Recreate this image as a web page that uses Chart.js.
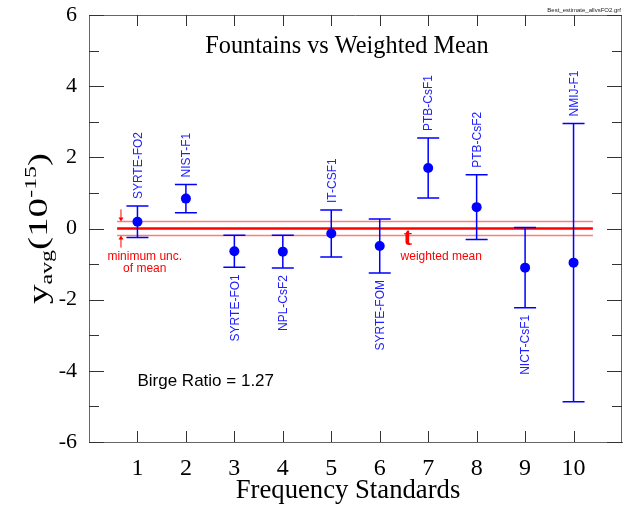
<!DOCTYPE html>
<html><head><meta charset="utf-8">
<script src="https://cdn.jsdelivr.net/npm/chart.js@4/dist/chart.umd.min.js"></script>
<style>html,body{margin:0;padding:0;background:#fff;}</style>
</head><body>
<canvas id="c" width="627" height="515" style="width:627px;height:515px;display:block"></canvas>
<script>
// ---- data ----
const standards = [1, 2, 3, 4, 5, 6, 7, 8, 9, 10];
const names = ['SYRTE-FO2', 'NIST-F1', 'SYRTE-FO1', 'NPL-CsF2', 'IT-CSF1', 'SYRTE-FOM', 'PTB-CsF1', 'PTB-CsF2', 'NICT-CsF1', 'NMIJ-F1'];
const values = [0.19, 0.84, -0.64, -0.65, -0.14, -0.49, 1.70, 0.60, -1.10, -0.96];
const uncert = [0.44, 0.40, 0.45, 0.46, 0.66, 0.76, 0.84, 0.91, 1.13, 3.91];
const labelSide = ['above', 'above', 'below', 'below', 'above', 'below', 'above', 'above', 'below', 'above'];
const xTickLabels = [1, 2, 3, 4, 5, 6, 7, 8, 9, 10];
const yTickLabels = [-6, -4, -2, 0, 2, 4, 6];
const weightedMean = 0;
const minUncMean = 0.2;
const meanLineRange = [0.58, 10.4];
const birgeRatio = 1.27;

const BLUE = '#0000ff';
const RED = '#ff0000';
const PINK = 'rgba(255,110,110,0.9)';
const FRAME = '#666';
const SERIF = '"Liberation Serif", "Times New Roman", serif';
const SANS = '"Liberation Sans", Arial, sans-serif';

const decorPlugin = {
  id: 'decor',
  beforeDatasetsDraw(chart) {
    const {ctx, chartArea: a, scales: {x, y}} = chart;
    ctx.save();
    ctx.strokeStyle = FRAME;
    ctx.lineWidth = 1;
    ctx.beginPath();
    ctx.moveTo(a.left, a.top + 0.5); ctx.lineTo(a.right, a.top + 0.5);
    ctx.moveTo(a.right - 0.5, a.top); ctx.lineTo(a.right - 0.5, a.bottom);
    ctx.stroke();
    ctx.strokeStyle = '#333';
    ctx.beginPath();
    for (let v = -6; v <= 6; v++) {
      const py = Math.round(y.getPixelForValue(v)) + 0.5;
      const len = (v % 2 === 0) ? 15 : 10;
      ctx.moveTo(a.left, py); ctx.lineTo(a.left + len, py);
      ctx.moveTo(a.right, py); ctx.lineTo(a.right - len, py);
    }
    xTickLabels.forEach(v => {
      const px = Math.round(x.getPixelForValue(v)) + 0.5;
      ctx.moveTo(px, a.bottom); ctx.lineTo(px, a.bottom - 11);
      ctx.moveTo(px, a.top); ctx.lineTo(px, a.top + 11);
    });
    ctx.stroke();
    ctx.restore();
  },
  afterDatasetsDraw(chart) {
    const {ctx, chartArea: a, scales: {x, y}} = chart;
    ctx.save();
    ctx.strokeStyle = BLUE;
    ctx.lineWidth = 1.5;
    standards.forEach((s, i) => {
      const px = x.getPixelForValue(s);
      const pt = y.getPixelForValue(values[i] + uncert[i]);
      const pb = y.getPixelForValue(values[i] - uncert[i]);
      ctx.beginPath();
      ctx.moveTo(px, pt); ctx.lineTo(px, pb);
      ctx.moveTo(px - 11, pt); ctx.lineTo(px + 11, pt);
      ctx.moveTo(px - 11, pb); ctx.lineTo(px + 11, pb);
      ctx.stroke();
    });
    ctx.fillStyle = '#2020ff';
    ctx.font = '12px ' + SANS;
    ctx.textBaseline = 'middle';
    standards.forEach((s, i) => {
      const px = x.getPixelForValue(s);
      ctx.save();
      if (labelSide[i] === 'above') {
        const py = y.getPixelForValue(values[i] + uncert[i]) - 7;
        ctx.translate(px + 1, py); ctx.rotate(-Math.PI / 2);
        ctx.textAlign = 'left';
      } else {
        const py = y.getPixelForValue(values[i] - uncert[i]) + 7;
        ctx.translate(px + 1, py); ctx.rotate(-Math.PI / 2);
        ctx.textAlign = 'right';
      }
      ctx.fillText(names[i], 0, 0);
      ctx.restore();
    });
    ctx.strokeStyle = RED; ctx.fillStyle = RED; ctx.lineWidth = 1;
    const ax = x.getPixelForValue(0.66);
    const up = y.getPixelForValue(weightedMean + minUncMean);
    const lo = y.getPixelForValue(weightedMean - minUncMean);
    ctx.beginPath();
    ctx.moveTo(ax, up - 12); ctx.lineTo(ax, up - 2);
    ctx.moveTo(ax, lo + 12); ctx.lineTo(ax, lo + 2);
    ctx.stroke();
    ctx.beginPath();
    ctx.moveTo(ax - 2.5, up - 4); ctx.lineTo(ax + 2.5, up - 4); ctx.lineTo(ax, up); ctx.closePath();
    ctx.moveTo(ax - 2.5, lo + 4); ctx.lineTo(ax + 2.5, lo + 4); ctx.lineTo(ax, lo); ctx.closePath();
    ctx.fill();
    ctx.font = '12px ' + SANS;
    ctx.textAlign = 'center'; ctx.textBaseline = 'middle';
    ctx.fillText('minimum unc.', x.getPixelForValue(1.15), y.getPixelForValue(-0.8));
    ctx.fillText('of mean', x.getPixelForValue(1.15), y.getPixelForValue(-1.13));
    ctx.fillText('weighted mean', x.getPixelForValue(7.27), y.getPixelForValue(-0.78));
    ctx.font = 'bold 26px ' + SERIF;
    ctx.textAlign = 'left'; ctx.textBaseline = 'alphabetic';
    ctx.fillText('t', x.getPixelForValue(6.49), y.getPixelForValue(-0.46));
    ctx.fillStyle = '#000';
    ctx.font = '17px ' + SANS;
    ctx.textAlign = 'left'; ctx.textBaseline = 'middle';
    ctx.fillText('Birge Ratio = ' + birgeRatio.toFixed(2), x.getPixelForValue(1), y.getPixelForValue(-4.3));
    ctx.restore();
  },
  afterDraw(chart) {
    const {ctx, chartArea: a} = chart;
    ctx.save();
    ctx.fillStyle = '#000';
    ctx.font = '24.3px ' + SERIF;
    ctx.textAlign = 'center'; ctx.textBaseline = 'alphabetic';
    ctx.fillText('Fountains vs Weighted Mean', 347, 53);
    ctx.font = '26.7px ' + SERIF;
    ctx.fillText('Frequency Standards', 348, 498);
    ctx.font = '6px ' + SANS;
    ctx.fillStyle = '#222';
    ctx.textAlign = 'right'; ctx.textBaseline = 'middle';
    ctx.fillText('Best_estimate_allvsFO2.grf', 621, 10);
    ctx.fillStyle = '#000';
    const parts = [
      {t: 'y', size: 28, dy: 0},
      {t: 'avg', size: 17, dy: 5},
      {t: '(10', size: 28, dy: 0},
      {t: '-15', size: 17, dy: -11},
      {t: ')', size: 28, dy: 0}
    ];
    let total = 0;
    parts.forEach(p => { ctx.font = p.size + 'px ' + SERIF; p.w = ctx.measureText(p.t).width; total += p.w; });
    const cy = (a.top + a.bottom) / 2;
    ctx.translate(47, cy);
    ctx.rotate(-Math.PI / 2);
    ctx.scale(1.4, 1);
    ctx.textAlign = 'left'; ctx.textBaseline = 'alphabetic';
    let xx = -total / 2;
    parts.forEach(p => { ctx.font = p.size + 'px ' + SERIF; ctx.fillText(p.t, xx, p.dy); xx += p.w; });
    ctx.restore();
  }
};

const ctx = document.getElementById('c').getContext('2d');
new Chart(ctx, {
  type: 'scatter',
  data: {
    datasets: [
      {
        label: 'Fountains',
        data: standards.map((s, i) => ({x: s, y: values[i]})),
        backgroundColor: BLUE, borderColor: BLUE,
        pointRadius: 5, pointHoverRadius: 5, borderWidth: 0
      },
      {
        type: 'line', label: 'weighted mean',
        data: meanLineRange.map(v => ({x: v, y: weightedMean})),
        borderColor: RED, borderWidth: 2.5, pointRadius: 0, fill: false
      },
      {
        type: 'line', label: '+min unc',
        data: meanLineRange.map(v => ({x: v, y: weightedMean + minUncMean})),
        borderColor: PINK, borderWidth: 1.5, pointRadius: 0, fill: false
      },
      {
        type: 'line', label: '-min unc',
        data: meanLineRange.map(v => ({x: v, y: weightedMean - minUncMean})),
        borderColor: PINK, borderWidth: 1.5, pointRadius: 0, fill: false
      }
    ]
  },
  options: {
    responsive: false,
    animation: false,
    layout: {padding: {left: 0, right: 4, top: 15, bottom: 0}},
    plugins: {legend: {display: false}, tooltip: {enabled: false}, title: {display: false}},
    scales: {
      x: {
        type: 'linear', min: 0, max: 11,
        ticks: {
          stepSize: 1, autoSkip: false, maxRotation: 0, padding: 12,
          color: '#000', font: {family: SERIF, size: 24},
          callback: v => xTickLabels.includes(v) ? String(v) : ''
        },
        grid: {drawOnChartArea: false, drawTicks: false},
        border: {display: true, color: FRAME, width: 1},
        afterFit: s => { s.height = 73; s.paddingLeft = 0; s.paddingRight = 0; }
      },
      y: {
        type: 'linear', min: -6, max: 6,
        ticks: {
          stepSize: 1, autoSkip: false, padding: 12,
          color: '#000', font: {family: SERIF, size: 22},
          callback: v => yTickLabels.includes(v) ? String(v) : ''
        },
        grid: {drawOnChartArea: false, drawTicks: false},
        border: {display: true, color: FRAME, width: 1},
        afterFit: s => { s.width = 89; s.paddingTop = 0; s.paddingBottom = 0; }
      }
    }
  },
  plugins: [decorPlugin]
});
</script>
</body></html>
